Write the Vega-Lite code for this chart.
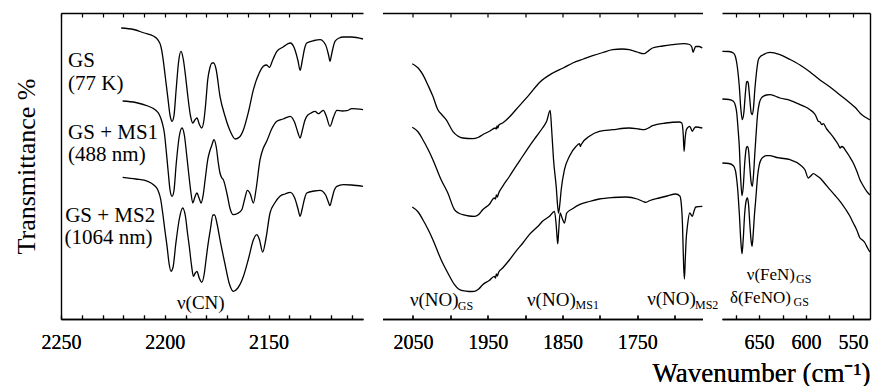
{
"$schema": "https://vega.github.io/schema/vega-lite/v6.json",
"padding": {"left": 13, "top": 12, "right": 0, "bottom": 0},
"autosize": {"type": "pad"},
"bounds": "flush",
"spacing": 19.5,
"config": {
  "view": {"stroke": null},
  "font": "Liberation Serif, Times New Roman, serif",
  "text": {"font": "Liberation Serif, Times New Roman, serif"},
  "axis": {"grid": false, "domainColor": "black", "domainWidth": 1.4, "tickColor": "black", "tickWidth": 1.2, "tickSize": -4, "labelFont": "Liberation Serif, Times New Roman, serif", "labelFontSize": 20, "labelColor": "black", "labelPadding": 17, "labelFlush": false, "labelOverlap": false, "titleFont": "Liberation Serif, Times New Roman, serif", "titleFontWeight": "normal", "titleColor": "black"}
},
"datasets": {
  "p1": [
    {"s":"GS","wn":2221,"t":291},{"s":"GS","wn":2215,"t":289.5},{"s":"GS","wn":2209.9,"t":286},{"s":"GS","wn":2205.5,"t":283},{"s":"GS","wn":2203.4,"t":279.3},{"s":"GS","wn":2201.8,"t":272},{"s":"GS","wn":2201,"t":262.7},{"s":"GS","wn":2199.8,"t":243},{"s":"GS","wn":2198.6,"t":222.7},{"s":"GS","wn":2197.4,"t":203},{"s":"GS","wn":2196.5,"t":197.7},{"s":"GS","wn":2195.6,"t":203},{"s":"GS","wn":2194.5,"t":230},{"s":"GS","wn":2193.3,"t":258},{"s":"GS","wn":2192.2,"t":267.7},{"s":"GS","wn":2191.1,"t":260},{"s":"GS","wn":2190,"t":243},{"s":"GS","wn":2188.9,"t":222.7},{"s":"GS","wn":2187.6,"t":203},{"s":"GS","wn":2186.5,"t":196},{"s":"GS","wn":2185.5,"t":199},{"s":"GS","wn":2184.5,"t":201},{"s":"GS","wn":2183.4,"t":195},{"s":"GS","wn":2182.2,"t":191},{"s":"GS","wn":2181.2,"t":198},{"s":"GS","wn":2180.3,"t":215},{"s":"GS","wn":2179.3,"t":239.3},{"s":"GS","wn":2178.4,"t":250},{"s":"GS","wn":2177.2,"t":256},{"s":"GS","wn":2176.4,"t":256},{"s":"GS","wn":2175.3,"t":250},{"s":"GS","wn":2173.4,"t":222.7},{"s":"GS","wn":2171,"t":203},{"s":"GS","wn":2168.5,"t":188},{"s":"GS","wn":2166.1,"t":180},{"s":"GS","wn":2164,"t":182},{"s":"GS","wn":2162.1,"t":189.3},{"s":"GS","wn":2159.7,"t":207},{"s":"GS","wn":2157.3,"t":229.3},{"s":"GS","wn":2154.5,"t":246},{"s":"GS","wn":2152.5,"t":252.7},{"s":"GS","wn":2151,"t":254},{"s":"GS","wn":2149.6,"t":251.7},{"s":"GS","wn":2148,"t":259},{"s":"GS","wn":2146,"t":267.7},{"s":"GS","wn":2143,"t":272},{"s":"GS","wn":2139.6,"t":276},{"s":"GS","wn":2137.6,"t":271},{"s":"GS","wn":2135.8,"t":258},{"s":"GS","wn":2134.8,"t":248.7},{"s":"GS","wn":2133.8,"t":258},{"s":"GS","wn":2132.7,"t":270},{"s":"GS","wn":2131.6,"t":276},{"s":"GS","wn":2128,"t":278.5},{"s":"GS","wn":2125.2,"t":279.3},{"s":"GS","wn":2122.5,"t":274},{"s":"GS","wn":2121.1,"t":264},{"s":"GS","wn":2120.4,"t":257.7},{"s":"GS","wn":2119.6,"t":265},{"s":"GS","wn":2118.6,"t":274},{"s":"GS","wn":2118,"t":277.7},{"s":"GS","wn":2116,"t":281},{"s":"GS","wn":2114,"t":282},{"s":"GS","wn":2110,"t":282},{"s":"GS","wn":2104.5,"t":280},
    {"s":"MS1","wn":2220.3,"t":218},{"s":"MS1","wn":2214,"t":216.5},{"s":"MS1","wn":2208.2,"t":213},{"s":"MS1","wn":2204.5,"t":209},{"s":"MS1","wn":2202.6,"t":204.3},{"s":"MS1","wn":2201.2,"t":196},{"s":"MS1","wn":2200.2,"t":186},{"s":"MS1","wn":2199.2,"t":166},{"s":"MS1","wn":2198.3,"t":146},{"s":"MS1","wn":2197.4,"t":128},{"s":"MS1","wn":2196.5,"t":122.7},{"s":"MS1","wn":2195.6,"t":128},{"s":"MS1","wn":2194.5,"t":155},{"s":"MS1","wn":2193,"t":183},{"s":"MS1","wn":2191.7,"t":191},{"s":"MS1","wn":2190.5,"t":183},{"s":"MS1","wn":2189.5,"t":165},{"s":"MS1","wn":2188.5,"t":146},{"s":"MS1","wn":2187.5,"t":128},{"s":"MS1","wn":2186.5,"t":116},{"s":"MS1","wn":2185.5,"t":122},{"s":"MS1","wn":2184.5,"t":126},{"s":"MS1","wn":2183.5,"t":121},{"s":"MS1","wn":2182.5,"t":116},{"s":"MS1","wn":2181.5,"t":124},{"s":"MS1","wn":2180.4,"t":142},{"s":"MS1","wn":2179.3,"t":159.3},{"s":"MS1","wn":2178.3,"t":168},{"s":"MS1","wn":2177.3,"t":174},{"s":"MS1","wn":2176.3,"t":179.3},{"s":"MS1","wn":2175.2,"t":172},{"s":"MS1","wn":2174.2,"t":156},{"s":"MS1","wn":2173.4,"t":146},{"s":"MS1","wn":2172.5,"t":141},{"s":"MS1","wn":2171.8,"t":139.3},{"s":"MS1","wn":2170,"t":125},{"s":"MS1","wn":2168.5,"t":110},{"s":"MS1","wn":2167,"t":104.3},{"s":"MS1","wn":2165,"t":105.5},{"s":"MS1","wn":2162.9,"t":109.3},{"s":"MS1","wn":2161.5,"t":120},{"s":"MS1","wn":2160.2,"t":128.7},{"s":"MS1","wn":2158.8,"t":125},{"s":"MS1","wn":2157.3,"t":116},{"s":"MS1","wn":2156,"t":130},{"s":"MS1","wn":2154.1,"t":159.3},{"s":"MS1","wn":2152.5,"t":171},{"s":"MS1","wn":2150.9,"t":177.7},{"s":"MS1","wn":2148.5,"t":190},{"s":"MS1","wn":2146,"t":197.7},{"s":"MS1","wn":2143,"t":200},{"s":"MS1","wn":2139.6,"t":202.7},{"s":"MS1","wn":2137.5,"t":197},{"s":"MS1","wn":2135.8,"t":186},{"s":"MS1","wn":2134.8,"t":181},{"s":"MS1","wn":2133.8,"t":188},{"s":"MS1","wn":2132.6,"t":198},{"s":"MS1","wn":2131.6,"t":202.7},{"s":"MS1","wn":2129.5,"t":206},{"s":"MS1","wn":2127.6,"t":207.7},{"s":"MS1","wn":2126,"t":205.3},{"s":"MS1","wn":2124.8,"t":207},{"s":"MS1","wn":2123.6,"t":208.7},{"s":"MS1","wn":2122.2,"t":203},{"s":"MS1","wn":2120.4,"t":192.7},{"s":"MS1","wn":2118.7,"t":202},{"s":"MS1","wn":2117.1,"t":208.7},{"s":"MS1","wn":2114.5,"t":208},{"s":"MS1","wn":2112.3,"t":208.3},{"s":"MS1","wn":2109.9,"t":210.3},{"s":"MS1","wn":2104.5,"t":209.3},
    {"s":"MS2","wn":2220.3,"t":141.7},{"s":"MS2","wn":2214,"t":140},{"s":"MS2","wn":2208.2,"t":137.7},{"s":"MS2","wn":2205,"t":133.5},{"s":"MS2","wn":2203.4,"t":129.3},{"s":"MS2","wn":2202,"t":120},{"s":"MS2","wn":2201,"t":106},{"s":"MS2","wn":2199.9,"t":88},{"s":"MS2","wn":2198.9,"t":72.7},{"s":"MS2","wn":2197.9,"t":55},{"s":"MS2","wn":2197,"t":47.7},{"s":"MS2","wn":2196,"t":52},{"s":"MS2","wn":2194.7,"t":75},{"s":"MS2","wn":2193,"t":100},{"s":"MS2","wn":2191.4,"t":111},{"s":"MS2","wn":2190,"t":102},{"s":"MS2","wn":2189,"t":85},{"s":"MS2","wn":2188.2,"t":72.7},{"s":"MS2","wn":2187.2,"t":55},{"s":"MS2","wn":2186.2,"t":42.7},{"s":"MS2","wn":2185.3,"t":46},{"s":"MS2","wn":2184.5,"t":47.7},{"s":"MS2","wn":2183.4,"t":41},{"s":"MS2","wn":2182.2,"t":36.7},{"s":"MS2","wn":2181,"t":45},{"s":"MS2","wn":2180.2,"t":58},{"s":"MS2","wn":2179.3,"t":72.7},{"s":"MS2","wn":2178,"t":90},{"s":"MS2","wn":2176.8,"t":104},{"s":"MS2","wn":2176,"t":104},{"s":"MS2","wn":2174.8,"t":95},{"s":"MS2","wn":2173.4,"t":79.3},{"s":"MS2","wn":2171,"t":55},{"s":"MS2","wn":2169,"t":36},{"s":"MS2","wn":2167,"t":27.7},{"s":"MS2","wn":2164.8,"t":31},{"s":"MS2","wn":2162.1,"t":42.7},{"s":"MS2","wn":2159.7,"t":60},{"s":"MS2","wn":2157.3,"t":79.3},{"s":"MS2","wn":2155.7,"t":84.3},{"s":"MS2","wn":2154.5,"t":80},{"s":"MS2","wn":2152.8,"t":67},{"s":"MS2","wn":2151.3,"t":80},{"s":"MS2","wn":2149.3,"t":106},{"s":"MS2","wn":2147,"t":116},{"s":"MS2","wn":2144.5,"t":122.7},{"s":"MS2","wn":2142,"t":125},{"s":"MS2","wn":2139.6,"t":126.7},{"s":"MS2","wn":2137.4,"t":121},{"s":"MS2","wn":2135.8,"t":110},{"s":"MS2","wn":2134.8,"t":102.7},{"s":"MS2","wn":2133.8,"t":110},{"s":"MS2","wn":2132.7,"t":120},{"s":"MS2","wn":2131.6,"t":126},{"s":"MS2","wn":2128,"t":128},{"s":"MS2","wn":2125.2,"t":128.7},{"s":"MS2","wn":2122.5,"t":124},{"s":"MS2","wn":2121.2,"t":117},{"s":"MS2","wn":2120.4,"t":113.3},{"s":"MS2","wn":2119.5,"t":120},{"s":"MS2","wn":2118.3,"t":129},{"s":"MS2","wn":2117.1,"t":132.7},{"s":"MS2","wn":2114,"t":134.3},{"s":"MS2","wn":2110,"t":134},{"s":"MS2","wn":2104.5,"t":132.7}
  ],
  "p2": [
    {"s":"GS","wn":2050.9,"t":255.3},{"s":"GS","wn":2043,"t":251},{"s":"GS","wn":2036.7,"t":244.3},{"s":"GS","wn":2030,"t":234},{"s":"GS","wn":2023.3,"t":222.7},{"s":"GS","wn":2016.7,"t":209.3},{"s":"GS","wn":2011,"t":204},{"s":"GS","wn":2005.6,"t":199.3},{"s":"GS","wn":1996.7,"t":187.7},{"s":"GS","wn":1990,"t":183},{"s":"GS","wn":1983.3,"t":181},{"s":"GS","wn":1970,"t":180.3},{"s":"GS","wn":1963,"t":181.5},{"s":"GS","wn":1956.7,"t":184.3},{"s":"GS","wn":1947,"t":188},{"s":"GS","wn":1940,"t":191},{"s":"GS","wn":1938.5,"t":190},{"s":"GS","wn":1937.5,"t":193},{"s":"GS","wn":1936.5,"t":191},{"s":"GS","wn":1935,"t":194},{"s":"GS","wn":1930,"t":196},{"s":"GS","wn":1921,"t":202},{"s":"GS","wn":1912.3,"t":209.3},{"s":"GS","wn":1894.4,"t":224.3},{"s":"GS","wn":1880.7,"t":236.5},{"s":"GS","wn":1862.9,"t":246},{"s":"GS","wn":1849,"t":251},{"s":"GS","wn":1836.3,"t":256},{"s":"GS","wn":1822,"t":260},{"s":"GS","wn":1809.6,"t":263.3},{"s":"GS","wn":1796,"t":266.5},{"s":"GS","wn":1782.9,"t":269.3},{"s":"GS","wn":1770,"t":270},{"s":"GS","wn":1760.7,"t":269.3},{"s":"GS","wn":1750,"t":267},{"s":"GS","wn":1744,"t":265.5},{"s":"GS","wn":1740.7,"t":265.3},{"s":"GS","wn":1736,"t":267.5},{"s":"GS","wn":1729.6,"t":271},{"s":"GS","wn":1716,"t":273},{"s":"GS","wn":1702.9,"t":274.3},{"s":"GS","wn":1687.3,"t":275.3},{"s":"GS","wn":1680,"t":274.5},{"s":"GS","wn":1677,"t":272},{"s":"GS","wn":1675.3,"t":266.7},{"s":"GS","wn":1673.5,"t":270},{"s":"GS","wn":1671.7,"t":272.7},{"s":"GS","wn":1667,"t":272.5},{"s":"GS","wn":1663,"t":271},
    {"s":"MS1","wn":2050.9,"t":191.7},{"s":"MS1","wn":2043,"t":187},{"s":"MS1","wn":2036.7,"t":179.3},{"s":"MS1","wn":2030,"t":170},{"s":"MS1","wn":2023.3,"t":159.3},{"s":"MS1","wn":2012.3,"t":139.3},{"s":"MS1","wn":2003.3,"t":126},{"s":"MS1","wn":1994.4,"t":109.3},{"s":"MS1","wn":1989,"t":106},{"s":"MS1","wn":1983.3,"t":104.3},{"s":"MS1","wn":1975,"t":103},{"s":"MS1","wn":1967.7,"t":102.7},{"s":"MS1","wn":1962,"t":104.5},{"s":"MS1","wn":1956.7,"t":109.3},{"s":"MS1","wn":1948,"t":114.5},{"s":"MS1","wn":1941.1,"t":121},{"s":"MS1","wn":1939.5,"t":120},{"s":"MS1","wn":1938.5,"t":124},{"s":"MS1","wn":1937,"t":122},{"s":"MS1","wn":1935.5,"t":125.5},{"s":"MS1","wn":1930,"t":132.7},{"s":"MS1","wn":1921,"t":142.5},{"s":"MS1","wn":1912.3,"t":152.7},{"s":"MS1","wn":1903,"t":163},{"s":"MS1","wn":1894.4,"t":172.7},{"s":"MS1","wn":1885,"t":182.5},{"s":"MS1","wn":1876.7,"t":191},{"s":"MS1","wn":1871,"t":198},{"s":"MS1","wn":1866.4,"t":208.7},{"s":"MS1","wn":1864.5,"t":190},{"s":"MS1","wn":1862,"t":160},{"s":"MS1","wn":1858.4,"t":132.7},{"s":"MS1","wn":1855.3,"t":106},{"s":"MS1","wn":1853.5,"t":115},{"s":"MS1","wn":1851.7,"t":129.3},{"s":"MS1","wn":1847.3,"t":149.3},{"s":"MS1","wn":1840.7,"t":162.7},{"s":"MS1","wn":1831.7,"t":172.7},{"s":"MS1","wn":1827.3,"t":175.3},{"s":"MS1","wn":1826,"t":172.5},{"s":"MS1","wn":1825.1,"t":174.3},{"s":"MS1","wn":1814,"t":182.7},{"s":"MS1","wn":1800.7,"t":187.7},{"s":"MS1","wn":1782.9,"t":189.3},{"s":"MS1","wn":1760.7,"t":191},{"s":"MS1","wn":1748,"t":190},{"s":"MS1","wn":1740.7,"t":189.3},{"s":"MS1","wn":1735,"t":191},{"s":"MS1","wn":1729.6,"t":193.3},{"s":"MS1","wn":1711.7,"t":196},{"s":"MS1","wn":1694,"t":197},{"s":"MS1","wn":1690.4,"t":196},{"s":"MS1","wn":1688.5,"t":185},{"s":"MS1","wn":1687.3,"t":167.7},{"s":"MS1","wn":1686,"t":180},{"s":"MS1","wn":1684.3,"t":189.3},{"s":"MS1","wn":1679.8,"t":192.7},{"s":"MS1","wn":1676.3,"t":187.7},{"s":"MS1","wn":1673.5,"t":191},{"s":"MS1","wn":1671.7,"t":192},{"s":"MS1","wn":1663,"t":191},
    {"s":"MS2","wn":2050.9,"t":112},{"s":"MS2","wn":2043,"t":107},{"s":"MS2","wn":2036.7,"t":99.3},{"s":"MS2","wn":2030,"t":90},{"s":"MS2","wn":2023.3,"t":79.3},{"s":"MS2","wn":2012.3,"t":59.3},{"s":"MS2","wn":2003.3,"t":46},{"s":"MS2","wn":1994.4,"t":34.3},{"s":"MS2","wn":1989,"t":30},{"s":"MS2","wn":1983.3,"t":28.3},{"s":"MS2","wn":1975,"t":27.5},{"s":"MS2","wn":1967.7,"t":27.7},{"s":"MS2","wn":1962,"t":30},{"s":"MS2","wn":1956.7,"t":34.3},{"s":"MS2","wn":1948,"t":38.5},{"s":"MS2","wn":1941.1,"t":42.7},{"s":"MS2","wn":1939.5,"t":41},{"s":"MS2","wn":1938.5,"t":45},{"s":"MS2","wn":1937,"t":43},{"s":"MS2","wn":1935.5,"t":46.5},{"s":"MS2","wn":1930,"t":51},{"s":"MS2","wn":1921,"t":59},{"s":"MS2","wn":1912.3,"t":67.7},{"s":"MS2","wn":1903,"t":76},{"s":"MS2","wn":1894.4,"t":84.3},{"s":"MS2","wn":1880.7,"t":94.3},{"s":"MS2","wn":1876.7,"t":97.7},{"s":"MS2","wn":1867.3,"t":102.7},{"s":"MS2","wn":1860.7,"t":107.7},{"s":"MS2","wn":1858.5,"t":95},{"s":"MS2","wn":1857,"t":80},{"s":"MS2","wn":1856.3,"t":75.3},{"s":"MS2","wn":1855.3,"t":85},{"s":"MS2","wn":1853.1,"t":106},{"s":"MS2","wn":1850.5,"t":101},{"s":"MS2","wn":1847.3,"t":96},{"s":"MS2","wn":1844.3,"t":106},{"s":"MS2","wn":1836,"t":110.5},{"s":"MS2","wn":1827.3,"t":114.3},{"s":"MS2","wn":1814,"t":117.5},{"s":"MS2","wn":1800.7,"t":120},{"s":"MS2","wn":1782.9,"t":121.5},{"s":"MS2","wn":1765.1,"t":122},{"s":"MS2","wn":1750,"t":120},{"s":"MS2","wn":1742,"t":117.5},{"s":"MS2","wn":1738.4,"t":116.7},{"s":"MS2","wn":1733,"t":118.5},{"s":"MS2","wn":1720.7,"t":121},{"s":"MS2","wn":1710,"t":123},{"s":"MS2","wn":1698.4,"t":125},{"s":"MS2","wn":1693,"t":123},{"s":"MS2","wn":1691.7,"t":119.3},{"s":"MS2","wn":1689.5,"t":95},{"s":"MS2","wn":1688,"t":55},{"s":"MS2","wn":1686.9,"t":40},{"s":"MS2","wn":1685.7,"t":60},{"s":"MS2","wn":1684.5,"t":80},{"s":"MS2","wn":1682.9,"t":92.7},{"s":"MS2","wn":1679.8,"t":106},{"s":"MS2","wn":1676.3,"t":102.7},{"s":"MS2","wn":1674,"t":108},{"s":"MS2","wn":1671.7,"t":112},{"s":"MS2","wn":1663,"t":112.7}
  ],
  "p3": [
    {"s":"GS","wn":689,"t":267.7},{"s":"GS","wn":682,"t":267.5},{"s":"GS","wn":677.3,"t":266},{"s":"GS","wn":675,"t":262},{"s":"GS","wn":673.7,"t":256},{"s":"GS","wn":672.2,"t":245},{"s":"GS","wn":671,"t":232.7},{"s":"GS","wn":669.5,"t":212},{"s":"GS","wn":667.8,"t":199.3},{"s":"GS","wn":666.2,"t":206},{"s":"GS","wn":664.5,"t":226},{"s":"GS","wn":663.2,"t":237},{"s":"GS","wn":662.4,"t":237.7},{"s":"GS","wn":661.5,"t":236},{"s":"GS","wn":660,"t":222},{"s":"GS","wn":658.3,"t":206},{"s":"GS","wn":657.1,"t":204.3},{"s":"GS","wn":655.8,"t":212},{"s":"GS","wn":654.5,"t":229},{"s":"GS","wn":653.5,"t":239.3},{"s":"GS","wn":652,"t":252},{"s":"GS","wn":650.7,"t":259.3},{"s":"GS","wn":648,"t":263},{"s":"GS","wn":645.4,"t":264.3},{"s":"GS","wn":642,"t":266},{"s":"GS","wn":638.3,"t":266.7},{"s":"GS","wn":633,"t":265.8},{"s":"GS","wn":627.7,"t":264.3},{"s":"GS","wn":617,"t":259.5},{"s":"GS","wn":606.4,"t":254},{"s":"GS","wn":595.7,"t":247},{"s":"GS","wn":585.1,"t":239},{"s":"GS","wn":574.5,"t":232},{"s":"GS","wn":563.8,"t":224},{"s":"GS","wn":553.2,"t":216},{"s":"GS","wn":547,"t":211},{"s":"GS","wn":542.6,"t":206},{"s":"GS","wn":538,"t":202.5},{"s":"GS","wn":535.4,"t":201},{"s":"GS","wn":532,"t":199},
    {"s":"MS1","wn":689,"t":220},{"s":"MS1","wn":682,"t":219.5},{"s":"MS1","wn":677.3,"t":217.7},{"s":"MS1","wn":675,"t":213},{"s":"MS1","wn":673.7,"t":206},{"s":"MS1","wn":672.3,"t":190},{"s":"MS1","wn":671,"t":172.7},{"s":"MS1","wn":669.5,"t":140},{"s":"MS1","wn":668.1,"t":123.3},{"s":"MS1","wn":666.8,"t":132},{"s":"MS1","wn":665.3,"t":155},{"s":"MS1","wn":663.5,"t":171},{"s":"MS1","wn":662.4,"t":172.7},{"s":"MS1","wn":661.3,"t":170},{"s":"MS1","wn":659.8,"t":152},{"s":"MS1","wn":658.3,"t":136},{"s":"MS1","wn":657.1,"t":132.7},{"s":"MS1","wn":655.8,"t":145},{"s":"MS1","wn":654.5,"t":165},{"s":"MS1","wn":653.5,"t":179.3},{"s":"MS1","wn":651.5,"t":205},{"s":"MS1","wn":649.7,"t":216},{"s":"MS1","wn":647.5,"t":221},{"s":"MS1","wn":645.4,"t":222.7},{"s":"MS1","wn":642,"t":224},{"s":"MS1","wn":638.3,"t":224.3},{"s":"MS1","wn":633,"t":223},{"s":"MS1","wn":627.7,"t":221},{"s":"MS1","wn":617,"t":218.7},{"s":"MS1","wn":606.4,"t":214.3},{"s":"MS1","wn":595.7,"t":209.3},{"s":"MS1","wn":590,"t":204},{"s":"MS1","wn":586.9,"t":197.7},{"s":"MS1","wn":585,"t":197},{"s":"MS1","wn":583.3,"t":194.3},{"s":"MS1","wn":581.6,"t":195.3},{"s":"MS1","wn":578,"t":190},{"s":"MS1","wn":574.5,"t":186},{"s":"MS1","wn":570,"t":180.5},{"s":"MS1","wn":565.6,"t":174.3},{"s":"MS1","wn":563.8,"t":171},{"s":"MS1","wn":562,"t":172.5},{"s":"MS1","wn":560,"t":171.5},{"s":"MS1","wn":558.5,"t":169.3},{"s":"MS1","wn":554,"t":163},{"s":"MS1","wn":549.7,"t":156},{"s":"MS1","wn":546,"t":148},{"s":"MS1","wn":542.6,"t":139.3},{"s":"MS1","wn":539,"t":133},{"s":"MS1","wn":535.4,"t":127.7},{"s":"MS1","wn":532,"t":124},
    {"s":"MS2","wn":689,"t":156},{"s":"MS2","wn":682,"t":155.5},{"s":"MS2","wn":677.3,"t":153.3},{"s":"MS2","wn":675,"t":148},{"s":"MS2","wn":673.7,"t":139.3},{"s":"MS2","wn":672.3,"t":125},{"s":"MS2","wn":671,"t":106},{"s":"MS2","wn":669.5,"t":80},{"s":"MS2","wn":668.1,"t":65.3},{"s":"MS2","wn":666.8,"t":80},{"s":"MS2","wn":665.3,"t":105},{"s":"MS2","wn":663.5,"t":119},{"s":"MS2","wn":662.4,"t":121},{"s":"MS2","wn":661.3,"t":116},{"s":"MS2","wn":659.8,"t":95},{"s":"MS2","wn":658.4,"t":78},{"s":"MS2","wn":657.4,"t":72.7},{"s":"MS2","wn":656.2,"t":85},{"s":"MS2","wn":654.8,"t":105},{"s":"MS2","wn":653.5,"t":119.3},{"s":"MS2","wn":651.5,"t":143},{"s":"MS2","wn":649.7,"t":154.3},{"s":"MS2","wn":647.5,"t":160},{"s":"MS2","wn":645.4,"t":162},{"s":"MS2","wn":642,"t":163.3},{"s":"MS2","wn":638.3,"t":163.3},{"s":"MS2","wn":633,"t":162},{"s":"MS2","wn":627.7,"t":161},{"s":"MS2","wn":617,"t":159.3},{"s":"MS2","wn":606.4,"t":154.3},{"s":"MS2","wn":601,"t":149},{"s":"MS2","wn":597.6,"t":141},{"s":"MS2","wn":595,"t":143},{"s":"MS2","wn":592.2,"t":145.3},{"s":"MS2","wn":588,"t":143},{"s":"MS2","wn":585.1,"t":141},{"s":"MS2","wn":580,"t":135.5},{"s":"MS2","wn":574.5,"t":129.3},{"s":"MS2","wn":569,"t":123.5},{"s":"MS2","wn":563.8,"t":117.7},{"s":"MS2","wn":558,"t":110},{"s":"MS2","wn":553.2,"t":102.7},{"s":"MS2","wn":549.7,"t":96},{"s":"MS2","wn":546.1,"t":89.3},{"s":"MS2","wn":542.6,"t":81},{"s":"MS2","wn":540,"t":79},{"s":"MS2","wn":537.2,"t":76},{"s":"MS2","wn":534.5,"t":71},{"s":"MS2","wn":532,"t":67}
  ],
  "samples": [
    {"wn":2246.6,"t":252.5,"txt":"GS"},{"wn":2246.6,"t":229.5,"txt":"(77 K)"},{"wn":2246.6,"t":180.5,"txt":"GS + MS1"},{"wn":2246.6,"t":158.5,"txt":"(488 nm)"},{"wn":2248.0,"t":97,"txt":"GS + MS2"},{"wn":2248.3,"t":75,"txt":"(1064 nm)"}
  ],
  "bands1": [{"wn":2194.1,"t":10.5,"txt":"ν(CN)"}],
  "bands2": [{"wn":2054,"t":12.7,"txt":"ν(NO)"},{"wn":1897.4,"t":13,"txt":"ν(NO)"},{"wn":1736.7,"t":14,"txt":"ν(NO)"}],
  "subs2": [{"wn":1990,"t":9.3,"txt":"GS"},{"wn":1832.5,"t":10,"txt":"MS1"},{"wn":1672.7,"t":9.7,"txt":"MS2"}],
  "bands3": [{"wn":663.1,"t":38.7,"txt":"ν(FeN)"},{"wn":680.9,"t":16.3,"txt":"δ(FeNO)"}],
  "subs3": [{"wn":610.6,"t":36,"txt":"GS"},{"wn":613.3,"t":13.5,"txt":"GS"}]
},
"hconcat": [
  {
    "width": 302, "height": 306,
    "layer": [
      {
        "data": {"name": "p1"},
        "mark": {"type": "line", "interpolate": "monotone", "color": "black", "strokeWidth": 1.3},
        "encoding": {
          "x": {"field": "wn", "type": "quantitative", "scale": {"domain": [2104.5, 2250], "reverse": true, "nice": false, "zero": false},
                "axis": {"orient": "bottom", "title": null, "format": "d", "values": [2250,2240,2230,2220,2210,2200,2190,2180,2170,2160,2150,2140,2130,2120,2110], "labelExpr": "datum.value % 50 === 0 ? datum.label : ''"}},
          "y": {"field": "t", "type": "quantitative", "scale": {"domain": [0, 306], "nice": false, "zero": false},
                "axis": {"orient": "left", "title": "Transmittance %", "titleFontSize": 26, "titlePadding": 22, "labels": false, "ticks": false, "domain": true}},
          "detail": {"field": "s"}
        }
      },
      {
        "data": {"name": "samples"},
        "mark": {"type": "text", "align": "left", "baseline": "alphabetic", "fontSize": 21, "color": "black"},
        "encoding": {
          "x": {"field": "wn", "type": "quantitative", "axis": {"orient": "top", "title": null, "labels": false, "values": [2250,2240,2230,2220,2210,2200,2190,2180,2170,2160,2150,2140,2130,2120,2110]}},
          "y": {"field": "t", "type": "quantitative", "axis": {"orient": "left", "title": "Transmittance %", "titleFontSize": 26, "titlePadding": 22, "labels": false, "ticks": false, "domain": true}},
          "text": {"field": "txt"}
        }
      },
      {
        "data": {"name": "bands1"},
        "mark": {"type": "text", "align": "left", "baseline": "alphabetic", "fontSize": 19, "color": "black"},
        "encoding": {
          "x": {"field": "wn", "type": "quantitative", "axis": {"orient": "bottom", "title": null, "format": "d", "values": [2250,2240,2230,2220,2210,2200,2190,2180,2170,2160,2150,2140,2130,2120,2110], "labelExpr": "datum.value % 50 === 0 ? datum.label : ''"}},
          "y": {"field": "t", "type": "quantitative", "axis": {"orient": "left", "title": "Transmittance %", "titleFontSize": 26, "titlePadding": 22, "labels": false, "ticks": false, "domain": true}},
          "text": {"field": "txt"}
        }
      }
    ]
  },
  {
    "width": 320, "height": 306,
    "layer": [
      {
        "data": {"name": "p2"},
        "mark": {"type": "line", "interpolate": "monotone", "color": "black", "strokeWidth": 1.3},
        "encoding": {
          "x": {"field": "wn", "type": "quantitative", "scale": {"domain": [1662.7, 2090.7], "reverse": true, "nice": false, "zero": false},
                "axis": {"orient": "bottom", "title": null, "format": "d", "values": [2050,2000,1950,1900,1850,1800,1750,1700], "labelExpr": "datum.value % 100 === 50 ? datum.label : ''"}},
          "y": {"field": "t", "type": "quantitative", "scale": {"domain": [0, 306], "nice": false, "zero": false}, "axis": null},
          "detail": {"field": "s"}
        }
      },
      {
        "data": {"name": "bands2"},
        "mark": {"type": "text", "align": "left", "baseline": "alphabetic", "fontSize": 19, "color": "black"},
        "encoding": {
          "x": {"field": "wn", "type": "quantitative", "axis": {"orient": "top", "title": null, "labels": false, "values": [2050,2000,1950,1900,1850,1800,1750,1700]}},
          "y": {"field": "t", "type": "quantitative", "axis": null},
          "text": {"field": "txt"}
        }
      },
      {
        "data": {"name": "subs2"},
        "mark": {"type": "text", "align": "left", "baseline": "alphabetic", "fontSize": 12, "color": "black"},
        "encoding": {
          "x": {"field": "wn", "type": "quantitative", "axis": {"orient": "bottom", "title": null, "format": "d", "values": [2050,2000,1950,1900,1850,1800,1750,1700], "labelExpr": "datum.value % 100 === 50 ? datum.label : ''"}},
          "y": {"field": "t", "type": "quantitative", "axis": null},
          "text": {"field": "txt"}
        }
      }
    ]
  },
  {
    "width": 148, "height": 306,
    "layer": [
      {
        "data": {"name": "p3"},
        "mark": {"type": "line", "interpolate": "monotone", "color": "black", "strokeWidth": 1.3},
        "encoding": {
          "x": {"field": "wn", "type": "quantitative", "scale": {"domain": [531.9, 689.4], "reverse": true, "nice": false, "zero": false},
                "axis": {"orient": "bottom", "title": "Wavenumber (cm⁻¹)", "titleFontSize": 27, "titleAnchor": "start", "titleAlign": "right", "titlePadding": 8, "format": "d", "values": [675,650,625,600,575,550], "labelExpr": "datum.value % 50 === 0 ? datum.label : ''"}},
          "y": {"field": "t", "type": "quantitative", "scale": {"domain": [0, 306], "nice": false, "zero": false},
                "axis": {"orient": "right", "title": null, "labels": false, "ticks": false, "domain": true}},
          "detail": {"field": "s"}
        }
      },
      {
        "data": {"name": "bands3"},
        "mark": {"type": "text", "align": "left", "baseline": "alphabetic", "fontSize": 17, "color": "black"},
        "encoding": {
          "x": {"field": "wn", "type": "quantitative", "axis": {"orient": "top", "title": null, "labels": false, "values": [675,650,625,600,575,550]}},
          "y": {"field": "t", "type": "quantitative", "axis": {"orient": "right", "title": null, "labels": false, "ticks": false, "domain": true}},
          "text": {"field": "txt"}
        }
      },
      {
        "data": {"name": "subs3"},
        "mark": {"type": "text", "align": "left", "baseline": "alphabetic", "fontSize": 12, "color": "black"},
        "encoding": {
          "x": {"field": "wn", "type": "quantitative", "axis": {"orient": "bottom", "title": "Wavenumber (cm⁻¹)", "titleFontSize": 27, "titleAnchor": "start", "titleAlign": "right", "titlePadding": 8, "format": "d", "values": [675,650,625,600,575,550], "labelExpr": "datum.value % 50 === 0 ? datum.label : ''"}},
          "y": {"field": "t", "type": "quantitative", "axis": {"orient": "right", "title": null, "labels": false, "ticks": false, "domain": true}},
          "text": {"field": "txt"}
        }
      }
    ]
  }
]
}
